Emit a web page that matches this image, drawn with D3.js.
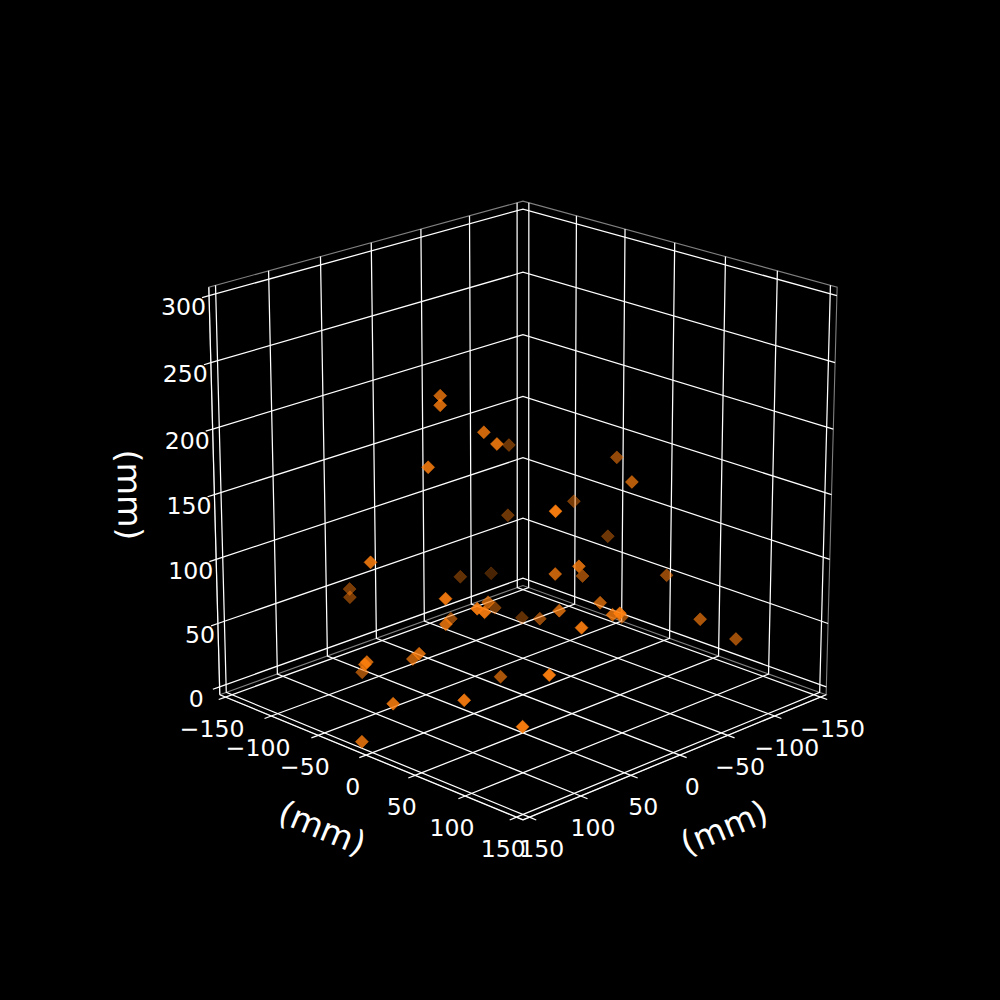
<!DOCTYPE html>
<html>
<head>
<meta charset="utf-8">
<title>3D scatter</title>
<script src="https://d3js.org/d3.v7.min.js"></script>
<style>
 html, body { margin: 0; background: #000; }
 svg { display: block; }
 text { fill: #fff; font-family: "DejaVu Sans", sans-serif; }
 .tick-label { font-size: 23.6px; }
 .axis-label { font-size: 33.3px; }
 .grid, .tick-line { fill: none; stroke: #fff; stroke-width: 1.25; }
 .axis-line { fill: none; stroke: #fff; stroke-width: 1.25; }
 .pane { fill: none; stroke: #fff; stroke-opacity: 0.5; stroke-width: 1.1; }
</style>
</head>
<body>
<div id="chart"></div>
<script>
// values (mm)
var pointsX = [58.4,72.3,55.3,63.2,-54.1,100.9,-41.0,145.3,-17.4,-58.5,
  -69.8,-34.9,-65.3,70.7,-89.2,31.7,31.1,-31.5,-74.5,1.8,
  36.0,-2.2,22.7,44.0,-31.8,65.1,-58.3,-85.8,126.6,112.9,
  57.8,-5.5,109.9,43.2,106.8,-42.2,125.0,105.3,52.3,101.1,
  66.2,67.5,152.3,153.7,109.6,158.1,168.3,134.6,122.7];
var pointsY = [-24.0,-9.6,16.6,37.6,-68.7,7.7,-56.7,-4.5,-82.9,-92.2,
  26.0,74.2,-12.7,102.3,-1.0,63.8,86.4,29.3,72.1,79.1,
  72.1,15.0,111.3,138.6,68.5,122.3,120.3,130.2,51.0,68.2,
  22.9,-34.6,72.4,-30.4,30.5,-43.3,22.3,-5.0,29.7,126.6,
  -112.9,-111.3,-2.1,-2.7,-53.5,30.5,9.0,77.2,122.3];
var pointsZ = [233.4,233.0,215.2,213.6,157.4,198.3,108.6,135.8,59.1,48.1,
  167.5,169.7,124.7,182.3,94.0,114.7,126.5,86.5,87.0,88.8,
  90.3,57.4,94.5,109.2,65.4,99.8,70.8,50.5,118.7,112.2,
  89.1,51.2,109.9,57.4,88.2,30.5,68.7,51.1,32.1,76.0,
  64.1,58.4,63.2,61.6,27.9,42.9,10.5,52.4,42.5];

var xyTicks = [-150,-100,-50,0,50,100,150];
var zTicks = [0,50,100,150,200,250,300];
var unitLabel = "(mm)";

var width = 1000, height = 1000;
var elev = 20 * Math.PI / 180, dist = 10, half = 0.5;
var cosE = Math.cos(elev), sinE = Math.sin(elev);

// data -> box coordinates
var xScale = d3.scaleLinear().domain([-150,150]).range([-half,half]);
var yScale = d3.scaleLinear().domain([-150,150]).range([-half,half]);
var zScale = d3.scaleLinear().domain([0,300]).range([-half,half]);
// view coordinates -> pixels, same limits as a default 3d axes
var sxScale = d3.scaleLinear().domain([-0.095,0.09]).range([125,900]);
var syScale = d3.scaleLinear().domain([-0.095,0.09]).range([890,120]);

function project(x, y, z) {
  var a = xScale(x), b = yScale(y), c = zScale(z);
  var u = (b - a) / Math.SQRT2;
  var h = (a + b) / Math.SQRT2;
  var w = h * cosE + c * sinE;
  var v = -h * sinE + c * cosE;
  return [sxScale(u / (dist - w)), syScale(v / (dist - w)), w];
}

var pad = 300 / 48;
var lo = -150 - pad, hi = 150 + pad, zLo = -pad, zHi = 300 + pad;
var tickOut = 6.5;
var line3 = d3.line().x(function(p) { return project(p[0],p[1],p[2])[0]; })
                     .y(function(p) { return project(p[0],p[1],p[2])[1]; });

var svg = d3.select("#chart").append("svg")
  .attr("width", width).attr("height", height)
  .attr("viewBox", "0 0 " + width + " " + height);

// pane edges, there is no line up the back corner
var panes = [
  [[hi,lo,zLo],[hi,lo,zHi],[lo,lo,zHi],[lo,hi,zHi],[lo,hi,zLo]],
  [[hi,lo,zLo],[lo,lo,zLo],[lo,hi,zLo],[hi,hi,zLo],[hi,lo,zLo]]
];
svg.selectAll(".pane").data(panes).enter().append("path")
  .attr("class", "pane")
  .attr("d", line3);

// grid
var gridLines = [];
xyTicks.forEach(function(t) {
  gridLines.push([[t,hi,zLo],[t,lo,zLo],[t,lo,zHi]]);
  gridLines.push([[hi,t,zLo],[lo,t,zLo],[lo,t,zHi]]);
});
zTicks.forEach(function(t) {
  gridLines.push([[hi,lo,t],[lo,lo,t],[lo,hi,t]]);
});
svg.selectAll(".grid").data(gridLines).enter().append("path")
  .attr("class", "grid")
  .attr("d", line3);

// axis lines
var axisLines = [
  [[lo,hi,zLo],[hi,hi,zLo]],
  [[hi,lo,zLo],[hi,hi,zLo]],
  [[hi,lo,zLo],[hi,lo,zHi]]
];
svg.selectAll(".axis-line").data(axisLines).enter().append("path")
  .attr("class", "axis-line")
  .attr("d", line3);

// ticks
var tickLines = [];
xyTicks.forEach(function(t) {
  tickLines.push([[t,hi,zLo],[t,hi + tickOut,zLo]]);
  tickLines.push([[hi,t,zLo],[hi + tickOut,t,zLo]]);
});
zTicks.forEach(function(t) {
  tickLines.push([[hi,lo,t],[hi + tickOut,lo,t]]);
});
svg.selectAll(".tick-line").data(tickLines).enter().append("path")
  .attr("class", "tick-line")
  .attr("d", line3);

// tick labels
function fmt(t) { return t < 0 ? "\u2212" + Math.abs(t) : String(t); }

svg.selectAll(".y-label").data(xyTicks).enter().append("text")
  .attr("class", "tick-label y-label")
  .attr("text-anchor", "middle")
  .attr("dy", "0.365em")
  .attr("x", function(t) { return project(hi + tickOut,t,zLo)[0] - 6.5; })
  .attr("y", function(t) { return project(hi + tickOut,t,zLo)[1] + 28.5; })
  .text(fmt);

svg.selectAll(".x-label").data(xyTicks).enter().append("text")
  .attr("class", "tick-label x-label")
  .attr("text-anchor", "middle")
  .attr("dy", "0.365em")
  .attr("x", function(t) { return project(t,hi + tickOut,zLo)[0] + 5.5; })
  .attr("y", function(t) { return project(t,hi + tickOut,zLo)[1] + 28.5; })
  .text(fmt);

svg.selectAll(".z-label").data(zTicks).enter().append("text")
  .attr("class", "tick-label z-label")
  .attr("text-anchor", "end")
  .attr("dy", "0.365em")
  .attr("x", function(t) { return project(hi + tickOut,lo,t)[0] + (t === 0 ? -9 : 4); })
  .attr("y", function(t) { return project(hi + tickOut,lo,t)[1] + 9; })
  .text(fmt);

// axis titles
svg.append("text").attr("class", "axis-label").attr("text-anchor", "middle").attr("dy", "0.3em")
  .attr("transform", "translate(321.7,829.3) rotate(22.6)").text(unitLabel);
svg.append("text").attr("class", "axis-label").attr("text-anchor", "middle").attr("dy", "0.3em")
  .attr("transform", "translate(724.7,829) rotate(-22.6)").text(unitLabel);
svg.append("text").attr("class", "axis-label").attr("text-anchor", "middle").attr("dy", "0.3em")
  .attr("transform", "translate(128,495) rotate(89)").text(unitLabel);

// points, far ones first and darker
var points = pointsX.map(function(x, i) {
  var p = project(x, pointsY[i], pointsZ[i]);
  return { sx: p[0], sy: p[1], depth: p[2] };
}).sort(function(a, b) { return a.depth - b.depth; });

var shade = d3.scaleLinear()
  .domain(d3.extent(points, function(d) { return d.depth; }))
  .range([0.3, 1]);

svg.selectAll(".point").data(points).enter().append("path")
  .attr("class", "point")
  .attr("d", d3.symbol().type(d3.symbolSquare).size(84))
  .attr("transform", function(d) { return "translate(" + d.sx + "," + d.sy + ") rotate(45)"; })
  .attr("fill", "#ff7f0e")
  .attr("stroke", "#ff7f0e")
  .attr("stroke-width", 0.5)
  .attr("fill-opacity", function(d) { return shade(d.depth) * 0.95; })
  .attr("stroke-opacity", function(d) { return shade(d.depth); });
</script>
</body>
</html>
